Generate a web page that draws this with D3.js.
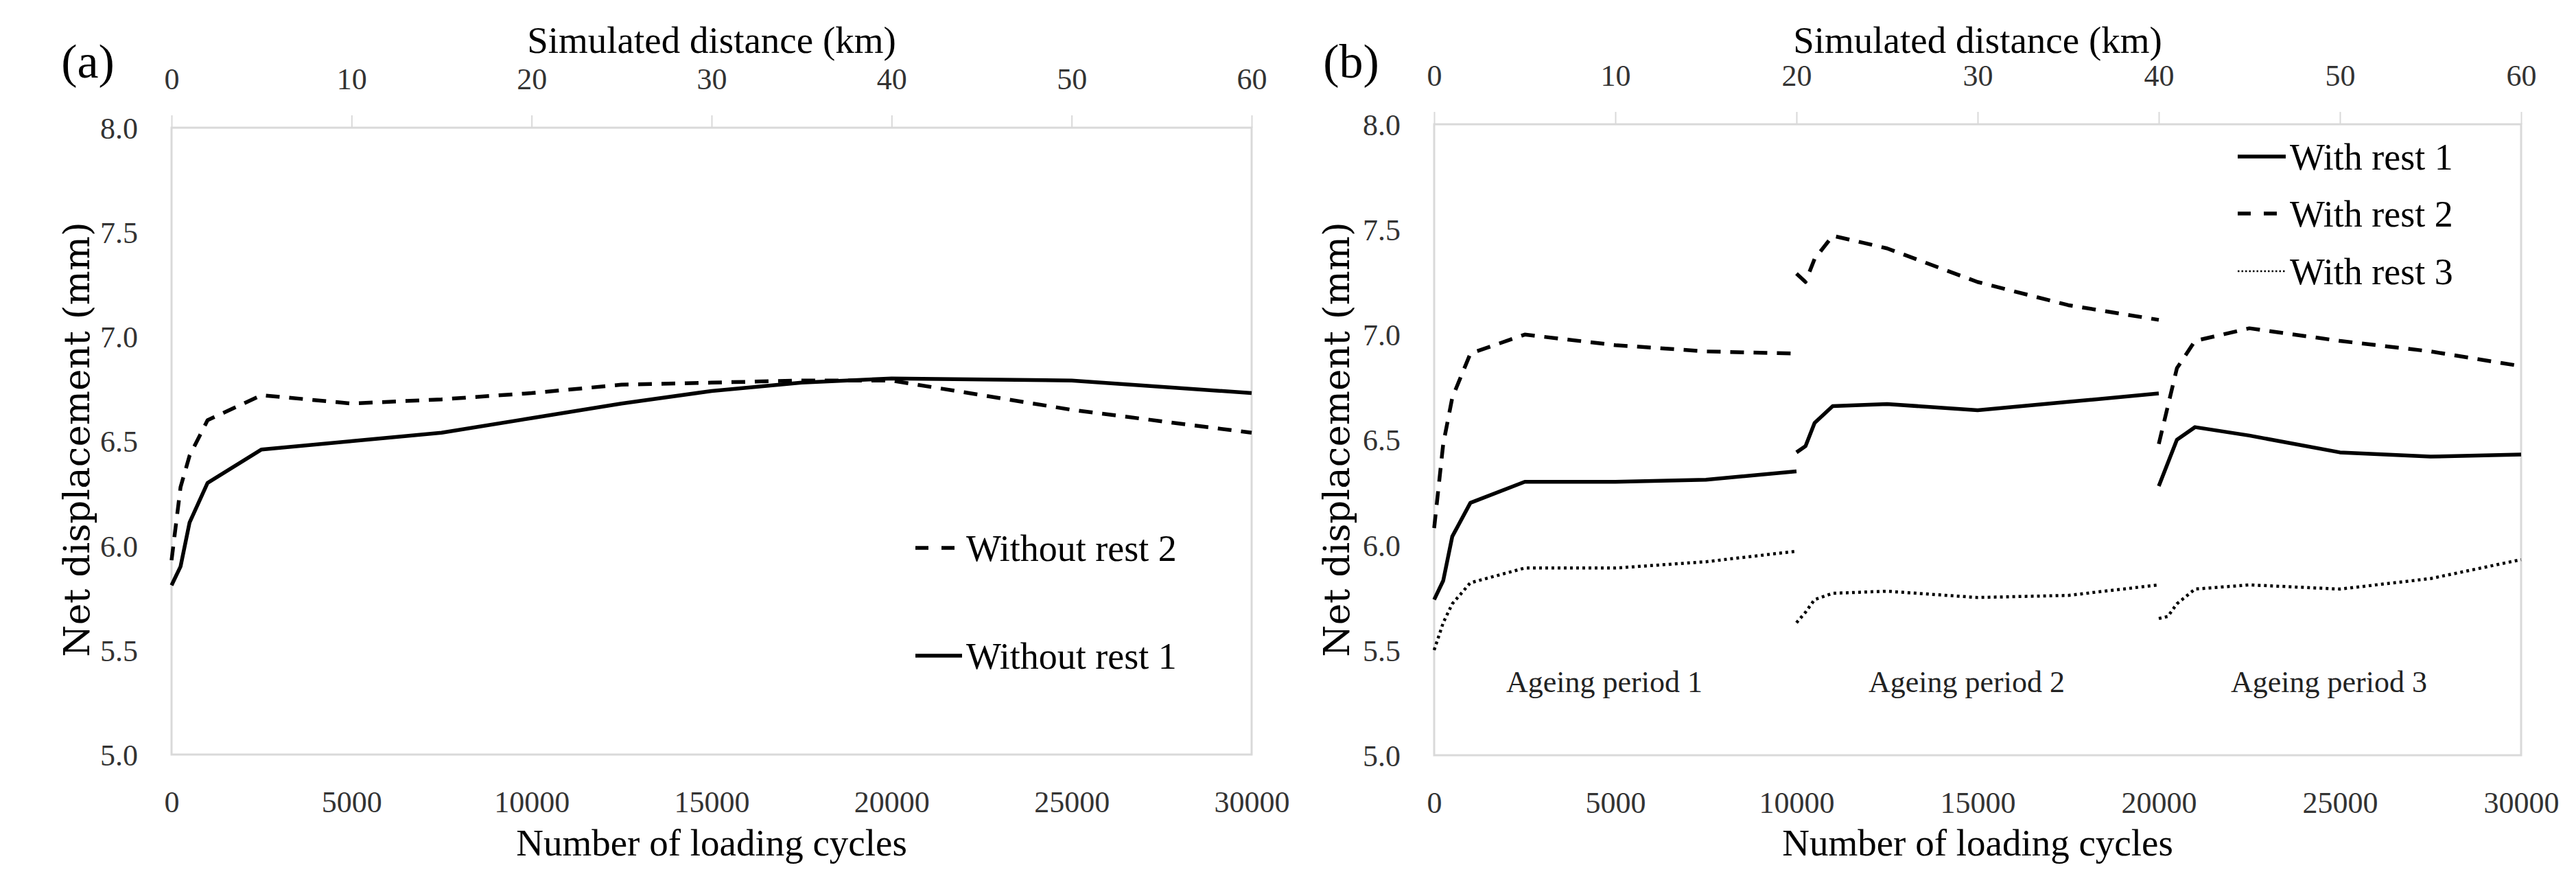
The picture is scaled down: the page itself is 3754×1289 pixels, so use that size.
<!DOCTYPE html>
<html>
<head>
<meta charset="utf-8">
<script src="https://cdn.jsdelivr.net/npm/d3@7"></script>
<style>
  body { margin: 0; background: #fff; }
</style>
</head>
<body>
<svg id="svg_main" width="3754" height="1289"></svg>
<script>
// panel (a): continuous loading, no rest
var cyclesA = [0, 250, 500, 1000, 2500, 5000, 7500, 10000, 12500, 15000, 17500, 20000, 25000, 30000]
var withoutRest1 = [5.81, 5.90, 6.11, 6.30, 6.46, 6.50, 6.54, 6.61, 6.68, 6.74, 6.78, 6.80, 6.79, 6.73]
var withoutRest2 = [5.93, 6.28, 6.43, 6.60, 6.72, 6.68, 6.70, 6.73, 6.77, 6.78, 6.79, 6.79, 6.65, 6.54]

// panel (b): three ageing periods, cycles counted from the start of each period
var periodStart = [0, 10000, 20000]
var periodCycles = [0, 250, 500, 1000, 2500, 5000, 7500, 10000]
var withRest1 = [
    [5.74, 5.83, 6.04, 6.20, 6.30, 6.30, 6.31, 6.35],
    [6.44, 6.47, 6.58, 6.66, 6.67, 6.64, 6.68, 6.72],
    [6.28, 6.39, 6.50, 6.56, 6.52, 6.44, 6.42, 6.43]]
var withRest2 = [
    [6.08, 6.48, 6.70, 6.91, 7.00, 6.95, 6.92, 6.91],
    [7.29, 7.25, 7.36, 7.47, 7.41, 7.25, 7.14, 7.07],
    [6.48, 6.66, 6.84, 6.97, 7.03, 6.97, 6.92, 6.85]]
var withRest3 = [
    [5.50, 5.63, 5.72, 5.82, 5.89, 5.89, 5.92, 5.97],
    [5.63, 5.68, 5.74, 5.77, 5.78, 5.75, 5.76, 5.81],
    [5.65, 5.66, 5.72, 5.79, 5.81, 5.79, 5.84, 5.93]]
var periodLabels = ['Ageing period 1', 'Ageing period 2', 'Ageing period 3']

var cycleTicks = [0, 5000, 10000, 15000, 20000, 25000, 30000]
var kmTicks = [0, 10, 20, 30, 40, 50, 60]
var dispTicks = [5.0, 5.5, 6.0, 6.5, 7.0, 7.5, 8.0]

var SERIF = '"Liberation Serif", "Times New Roman", serif'

var styles = {
    solid: { w: 5.5, dash: null },
    dashed: { w: 5.5, dash: '20,14' },
    dotted: { w: 4.5, dash: '4,5' }
}

var svg = d3.select('#svg_main')

function drawPanel(p){
    var g = svg.append('g')
    var x = d3.scaleLinear().domain([0, 30000]).range([p.left, p.right])
    var xKm = d3.scaleLinear().domain([0, 60]).range([p.left, p.right])
    var y = d3.scaleLinear().domain([5, 8]).range([p.bottom, p.top])

    // plot frame
    g.append('rect')
        .attr('x', p.left).attr('y', p.top)
        .attr('width', p.right - p.left).attr('height', p.bottom - p.top)
        .attr('fill', 'none').attr('stroke', '#d9d9d9').attr('stroke-width', 3)

    // top axis (km)
    var top = g.append('g').attr('transform', 'translate(0,' + p.top + ')')
        .call(d3.axisTop(xKm).tickValues(kmTicks).tickSize(18).tickFormat(d3.format('d')))
    top.select('.domain').remove()
    top.selectAll('line').attr('stroke', '#d9d9d9').attr('stroke-width', 2)
    top.selectAll('text').attr('y', -71).attr('dy', '0.35em')

    // bottom axis (cycles)
    var bot = g.append('g').attr('transform', 'translate(0,' + p.bottom + ')')
        .call(d3.axisBottom(x).tickValues(cycleTicks).tickSize(0).tickFormat(d3.format('d')))
    bot.select('.domain').remove()
    bot.selectAll('text').attr('y', 69).attr('dy', '0.35em')

    // left axis
    var left = g.append('g').attr('transform', 'translate(' + p.left + ',0)')
        .call(d3.axisLeft(y).tickValues(dispTicks).tickSize(0).tickPadding(49).tickFormat(d3.format('.1f')))
    left.select('.domain').remove()
    left.selectAll('text').attr('dy', '0.35em')

    g.selectAll('.tick text')
        .style('font-family', SERIF).style('font-size', '44px').attr('fill', '#333')

    // titles
    g.append('text').attr('x', (p.left + p.right) / 2).attr('y', 58).attr('dy', '0.35em')
        .attr('text-anchor', 'middle').style('font-family', SERIF).style('font-size', '55px')
        .text('Simulated distance (km)')
    g.append('text').attr('x', (p.left + p.right) / 2).attr('y', 1227).attr('dy', '0.35em')
        .attr('text-anchor', 'middle').style('font-family', SERIF).style('font-size', '55px')
        .text('Number of loading cycles')
    g.append('text')
        .attr('transform', 'translate(' + p.ytx + ',640) rotate(-90)')
        .attr('dy', '0.35em').attr('text-anchor', 'middle')
        .style('font-family', '"DejaVu Serif", serif').style('font-size', '53px')
        .text('Net displacement (mm)')
    g.append('text').attr('x', p.tagx).attr('y', 88).attr('dy', '0.35em')
        .attr('text-anchor', 'middle').style('font-family', SERIF).style('font-size', '70px')
        .text(p.tag)

    var line = d3.line()
        .x(function(d){ return x(d[0]) })
        .y(function(d){ return y(d[1]) })

    p.series.forEach(function(s){
        var st = styles[s.style]
        g.append('path')
            .datum(s.points)
            .attr('d', line)
            .attr('fill', 'none')
            .attr('stroke', '#000')
            .attr('stroke-width', st.w)
            .attr('stroke-linejoin', 'round')
            .attr('stroke-dasharray', st.dash)
    })

    // legend
    p.legend.forEach(function(l){
        var st = styles[l.style]
        g.append('line')
            .attr('x1', p.legX).attr('x2', p.legX + p.legW)
            .attr('y1', l.y).attr('y2', l.y)
            .attr('stroke', '#000')
            .attr('stroke-width', l.style == 'dotted' ? 2.5 : st.w)
            .attr('stroke-dasharray', l.style == 'dotted' ? '2.5,3' : (l.style == 'dashed' ? '19,19' : null))
        g.append('text').attr('x', p.legX + p.legW + 6).attr('y', l.y).attr('dy', '0.35em')
            .style('font-family', SERIF).style('font-size', '54px').text(l.name)
    })

    if (p.periods) {
        periodLabels.forEach(function(t, i){
            g.append('text')
                .attr('x', x(periodStart[i] + 5000) - 16).attr('y', 993).attr('dy', '0.35em')
                .attr('text-anchor', 'middle').style('font-family', SERIF).style('font-size', '44px')
                .attr('fill', '#222')
                .text(t)
        })
    }
}

function zipA(vals){
    return cyclesA.map(function(c, i){ return [c, vals[i]] })
}
function zipB(vals, k){
    return periodCycles.map(function(c, i){ return [periodStart[k] + c, vals[i]] })
}

var seriesA = [
    { style: 'dashed', points: zipA(withoutRest2) },
    { style: 'solid', points: zipA(withoutRest1) }
]

var seriesB = []
for (var k = 0; k < 3; k++) {
    seriesB.push({ style: 'solid', points: zipB(withRest1[k], k) })
    seriesB.push({ style: 'dashed', points: zipB(withRest2[k], k) })
    seriesB.push({ style: 'dotted', points: zipB(withRest3[k], k) })
}

drawPanel({
    left: 250, right: 1824, top: 186, bottom: 1099,
    ytx: 111, tagx: 128, tag: '(a)',
    series: seriesA,
    legX: 1334, legW: 68,
    legend: [
        { name: 'Without rest 2', style: 'dashed', y: 798 },
        { name: 'Without rest 1', style: 'solid', y: 955 }
    ]
})

drawPanel({
    left: 2090, right: 3674, top: 181, bottom: 1100,
    ytx: 1947, tagx: 1969, tag: '(b)',
    series: seriesB,
    legX: 3261, legW: 70,
    legend: [
        { name: 'With rest 1', style: 'solid', y: 228 },
        { name: 'With rest 2', style: 'dashed', y: 311 },
        { name: 'With rest 3', style: 'dotted', y: 395 }
    ],
    periods: true
})
</script>
</body>
</html>
